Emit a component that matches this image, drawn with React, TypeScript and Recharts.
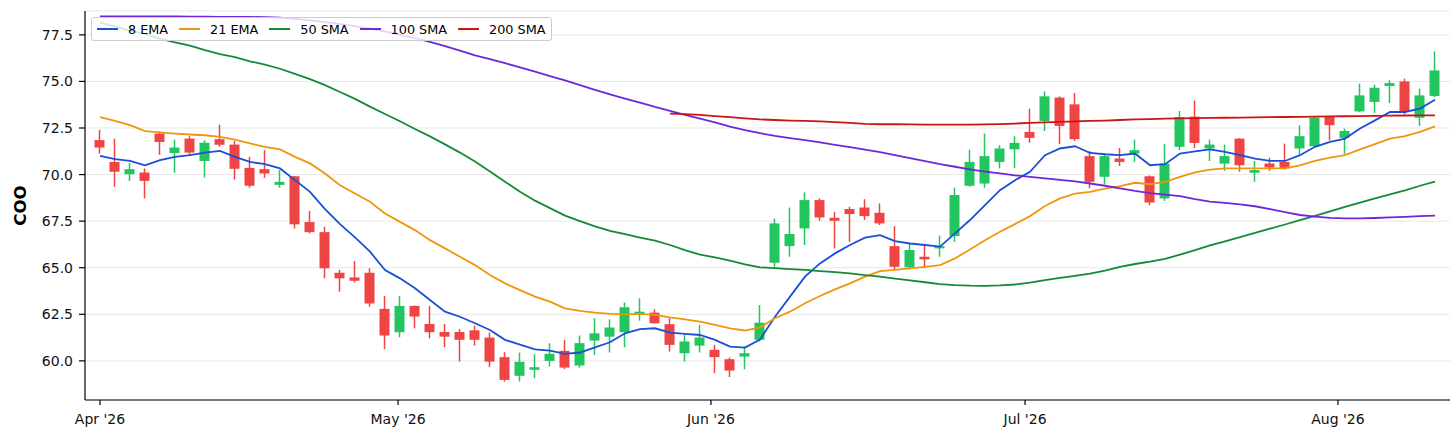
import {
  Bar,
  CartesianGrid,
  ComposedChart,
  Line,
  XAxis,
  YAxis,
} from "recharts";

// candles, one per trading day, 2026-04-01 .. 2026-08-10
const opens = [
  71.85, 70.68, 70.02, 70.11, 72.2, 71.16, 71.93, 70.73, 71.9, 71.61,
  70.36, 70.29, 69.45, 69.91, 67.45, 66.91, 64.73, 64.48, 64.73, 62.79,
  61.54, 62.95, 61.98, 61.55, 61.55, 61.64, 61.25, 60.2, 59.2, 59.52,
  60.0, 60.54, 59.75, 61.09, 61.3, 61.54, 62.52, 62.59, 61.97, 60.41,
  60.82, 60.59, 60.09, 60.23, 61.13, 65.27, 66.16, 67.11, 68.63, 67.68,
  68.15, 68.23, 67.95, 66.16, 65.02, 65.59, 66.04, 66.7, 69.4, 69.52,
  70.68, 71.36, 72.29, 72.88, 74.13, 73.77, 70.99, 69.88, 70.86, 71.13,
  69.91, 68.72, 71.49, 73.11, 71.4, 70.59, 71.93, 70.1, 70.59, 70.68,
  71.4, 71.52, 73.09, 71.97, 73.39, 73.9, 74.75, 75.0, 73.05, 74.22,
];
const highs = [
  72.4, 71.93, 70.63, 70.33, 72.3, 71.88, 72.06, 71.84, 72.68, 71.8,
  70.95, 71.31, 70.24, 69.93, 68.05, 67.2, 64.88, 65.36, 64.97, 63.48,
  63.48, 62.97, 62.95, 61.98, 61.7, 61.89, 61.52, 60.47, 60.45, 60.36,
  60.95, 61.13, 61.36, 62.29, 62.23, 63.13, 63.36, 62.77, 62.29, 61.39,
  61.93, 60.86, 60.18, 60.77, 63.0, 67.64, 68.23, 69.04, 68.72, 68.0,
  68.27, 68.68, 68.45, 67.23, 66.27, 66.27, 66.72, 69.3, 71.34, 72.2,
  71.57, 72.06, 73.54, 74.47, 74.2, 74.38, 71.27, 71.05, 71.43, 71.88,
  69.95, 71.63, 73.41, 73.98, 71.88, 71.61, 71.95, 70.73, 70.91, 71.66,
  72.65, 73.1, 73.12, 72.47, 74.88, 74.82, 75.06, 75.15, 74.61, 76.61,
];
const lows = [
  71.13, 69.34, 69.65, 68.72, 71.07, 70.1, 71.04, 69.84, 71.49, 69.73,
  69.29, 69.82, 69.29, 67.11, 66.84, 64.43, 63.71, 64.2, 62.91, 60.63,
  61.27, 61.75, 61.21, 60.73, 59.96, 60.82, 59.66, 58.89, 58.89, 59.07,
  59.7, 59.55, 59.64, 60.32, 60.45, 60.73, 62.16, 62.0, 60.5, 59.96,
  60.45, 59.34, 59.13, 59.55, 61.05, 65.05, 65.59, 66.22, 67.52, 66.04,
  66.39, 67.56, 67.29, 64.91, 64.98, 64.97, 65.59, 66.39, 69.35, 69.29,
  70.33, 70.36, 71.71, 72.34, 71.63, 71.8, 69.26, 69.48, 70.45, 70.68,
  68.36, 68.59, 71.31, 71.42, 70.73, 70.2, 70.15, 69.61, 70.2, 70.27,
  71.09, 71.5, 71.84, 71.09, 73.35, 73.3, 73.84, 73.24, 72.61, 74.15,
];
const closes = [
  71.45, 70.15, 70.29, 69.66, 71.75, 71.45, 71.18, 71.71, 71.6, 70.31,
  69.4, 70.06, 69.61, 67.33, 66.91, 64.97, 64.43, 64.3, 63.08, 61.36,
  62.95, 62.38, 61.54, 61.3, 61.13, 61.13, 59.96, 58.98, 59.95, 59.66,
  60.38, 59.64, 60.95, 61.48, 61.79, 62.88, 62.64, 62.02, 60.86, 61.04,
  61.25, 60.2, 59.48, 60.41, 62.05, 67.38, 66.81, 68.63, 67.7, 67.52,
  67.88, 67.77, 67.38, 65.05, 65.95, 65.45, 66.16, 68.9, 70.68, 70.99,
  71.4, 71.7, 71.97, 74.2, 72.61, 71.9, 69.61, 70.99, 70.68, 71.31,
  68.5, 70.59, 73.09, 71.7, 71.61, 70.99, 70.5, 70.24, 70.38, 70.33,
  72.06, 73.05, 72.65, 72.34, 74.25, 74.66, 74.91, 73.39, 74.25, 75.59,
];

const ema8 = [
  71.0, 70.83, 70.73, 70.5, 70.77, 70.95, 71.04, 71.18, 71.27, 70.95,
  70.68, 70.56, 70.33, 69.7, 69.07, 68.15, 67.34, 66.63, 65.86, 64.88,
  64.43, 63.9, 63.27, 62.64, 62.37, 62.02, 61.66, 61.13, 60.87, 60.62,
  60.55, 60.38, 60.45, 60.73, 61.0, 61.48, 61.7, 61.75, 61.52, 61.45,
  61.39, 61.13, 60.77, 60.71, 61.15, 62.37, 63.45, 64.52, 65.23, 65.77,
  66.22, 66.61, 66.75, 66.43, 66.3, 66.22, 66.13, 66.84, 67.56, 68.36,
  69.16, 69.7, 70.15, 71.04, 71.4, 71.52, 71.16, 71.09, 71.04, 71.13,
  70.5, 70.56, 71.13, 71.25, 71.35, 71.22, 71.04, 70.86, 70.73, 70.73,
  71.04, 71.49, 71.75, 71.93, 72.47, 72.91, 73.36, 73.36, 73.54, 74.02,
];
const ema21 = [
  73.09, 72.88, 72.65, 72.33, 72.26, 72.2, 72.15, 72.11, 72.02, 71.88,
  71.67, 71.49, 71.35, 70.95, 70.6, 70.06, 69.43, 68.98, 68.54, 67.91,
  67.46, 67.02, 66.48, 66.04, 65.59, 65.14, 64.61, 64.16, 63.8, 63.45,
  63.18, 62.82, 62.68, 62.59, 62.52, 62.5, 62.52, 62.47, 62.34, 62.23,
  62.11, 61.93, 61.75, 61.63, 61.8, 62.29, 62.64, 63.09, 63.48, 63.84,
  64.16, 64.52, 64.82, 64.88, 64.97, 65.05, 65.14, 65.5, 65.98, 66.48,
  66.93, 67.34, 67.77, 68.31, 68.72, 68.98, 69.07, 69.25, 69.38, 69.56,
  69.48, 69.61, 69.88, 70.12, 70.27, 70.33, 70.33, 70.33, 70.33, 70.33,
  70.5, 70.73, 70.91, 71.04, 71.35, 71.63, 71.93, 72.06, 72.29, 72.59,
];
const sma50 = [
  78.15, 77.95, 77.72, 77.55, 77.3, 77.1, 76.92, 76.68, 76.47, 76.3,
  76.08, 75.9, 75.68, 75.4, 75.12, 74.8, 74.43, 74.06, 73.65, 73.25,
  72.86, 72.45, 72.05, 71.62, 71.18, 70.7, 70.17, 69.62, 69.08, 68.6,
  68.2, 67.8, 67.5, 67.22, 66.98, 66.8, 66.62, 66.45, 66.22, 65.95,
  65.7, 65.55, 65.38, 65.18, 65.02, 64.98, 64.93, 64.88, 64.82, 64.76,
  64.7, 64.6, 64.52, 64.42, 64.32, 64.22, 64.12, 64.07, 64.04, 64.03,
  64.05, 64.1, 64.2, 64.33, 64.45, 64.56, 64.68, 64.85, 65.05, 65.2,
  65.33, 65.48, 65.7, 65.95, 66.2, 66.42, 66.64, 66.87, 67.1, 67.32,
  67.55, 67.78, 68.02, 68.27, 68.5, 68.72, 68.94, 69.15, 69.4, 69.62,
];
const sma100 = [
  78.49, 78.49, 78.49, 78.49, 78.49, 78.49, 78.48, 78.48, 78.47, 78.47,
  78.46, 78.45, 78.42, 78.36, 78.28, 78.18, 78.08, 77.97, 77.84, 77.68,
  77.5, 77.32, 77.12, 76.9, 76.65, 76.4, 76.2, 75.98, 75.75, 75.52,
  75.28, 75.06, 74.8, 74.55, 74.3, 74.08, 73.86, 73.63, 73.42, 73.2,
  73.0, 72.8, 72.58, 72.38, 72.22, 72.08, 71.96, 71.85, 71.73, 71.6,
  71.47, 71.34, 71.2, 71.05, 70.88, 70.72, 70.56, 70.42, 70.28, 70.16,
  70.06, 69.96, 69.88, 69.8, 69.72, 69.63, 69.52, 69.4, 69.26, 69.12,
  69.0, 68.92, 68.84, 68.68, 68.55, 68.48, 68.4, 68.3, 68.15, 67.98,
  67.83, 67.74, 67.68, 67.65, 67.65, 67.67, 67.7, 67.73, 67.77, 67.8,
];
// 200 SMA only has enough history from the 39th candle on
const sma200 = [
  null, null, null, null, null, null, null, null, null, null,
  null, null, null, null, null, null, null, null, null, null,
  null, null, null, null, null, null, null, null, null, null,
  null, null, null, null, null, null, null, null, 73.27, 73.24,
  73.2, 73.14, 73.08, 73.02, 72.96, 72.93, 72.9, 72.88, 72.86, 72.82,
  72.77, 72.72, 72.7, 72.7, 72.69, 72.68, 72.68, 72.68, 72.68, 72.69,
  72.71, 72.74, 72.77, 72.8, 72.83, 72.86, 72.88, 72.9, 72.93, 72.96,
  72.98, 73.0, 73.02, 73.03, 73.04, 73.05, 73.06, 73.07, 73.08, 73.09,
  73.1, 73.11, 73.12, 73.13, 73.14, 73.15, 73.16, 73.17, 73.18, 73.18,
];

const monthTicks = [0, 19.87, 40.73, 61.67, 82.53];
const monthLabels = ["Apr '26", "May '26", "Jun '26", "Jul '26", "Aug '26"];
const priceTicks = [60, 62.5, 65, 67.5, 70, 72.5, 75, 77.5];

const UP = "#22c55e";
const DOWN = "#ef4444";
const FONT = "DejaVu Sans, sans-serif";

const series = [
  { key: "ema8", name: "8 EMA", color: "#1a4fd6" },
  { key: "ema21", name: "21 EMA", color: "#f0960c" },
  { key: "sma50", name: "50 SMA", color: "#138a36" },
  { key: "sma100", name: "100 SMA", color: "#6d28d9" },
  { key: "sma200", name: "200 SMA", color: "#cc1414" },
];

const data = opens.map((open, i) => ({
  i,
  open,
  high: highs[i],
  low: lows[i],
  close: closes[i],
  ema8: ema8[i],
  ema21: ema21[i],
  sma50: sma50[i],
  sma100: sma100[i],
  sma200: sma200[i],
}));

function Candle(props: any) {
  const { x, y, width, height, payload } = props;
  if (x == null || y == null) return null;
  const top = Math.min(y, y + height);
  const h = Math.abs(height);
  const { open, close, high, low } = payload;
  const color = close >= open ? UP : DOWN;
  const perUnit = h / (high - low || 1);
  const yOpen = top + (high - open) * perUnit;
  const yClose = top + (high - close) * perUnit;
  const cx = x + width / 2;
  return (
    <g>
      <line x1={cx} x2={cx} y1={top} y2={top + h} stroke={color} strokeWidth={1.5} />
      <rect
        x={x}
        y={Math.min(yOpen, yClose)}
        width={width}
        height={Math.max(Math.abs(yOpen - yClose), 1)}
        fill={color}
      />
    </g>
  );
}

function App() {
  return (
    <div style={{ position: "relative", width: 1456, height: 440, fontFamily: FONT }}>
      <style>{`body { margin: 0; }`}</style>
      <ComposedChart
        width={1456}
        height={440}
        data={data}
        margin={{ top: 11, right: 6, bottom: 10, left: 0 }}
      >
        <CartesianGrid vertical={false} stroke="#e8e8e8" strokeWidth={1} />
        <XAxis
          dataKey="i"
          type="number"
          domain={[-1, 90]}
          ticks={monthTicks}
          tickFormatter={(v) => monthLabels[monthTicks.indexOf(v)] ?? ""}
          height={30}
          stroke="#000"
          strokeWidth={1.2}
          tickSize={5}
          tickMargin={9}
          tick={{ fill: "#111", fontSize: 14, fontFamily: FONT }}
          allowDataOverflow
        />
        <YAxis
          type="number"
          domain={[57.9, 78.78]}
          ticks={priceTicks}
          tickFormatter={(v) => v.toFixed(1)}
          width={85}
          stroke="#000"
          strokeWidth={1.2}
          tickSize={6}
          tickMargin={6}
          tick={{ fill: "#111", fontSize: 14, fontFamily: FONT }}
          allowDataOverflow
          label={{
            content: () => (
              <text
                x={20}
                y={205.5}
                transform="rotate(-90 20 205.5)"
                textAnchor="middle"
                dominantBaseline="central"
                fontFamily={FONT}
                fontSize={16.7}
                fontWeight="bold"
                fill="#000"
              >
                COO
              </text>
            ),
          }}
        />
        <Bar
          dataKey={(d: any) => [d.low, d.high]}
          barSize={10}
          shape={<Candle />}
          isAnimationActive={false}
        />
        {series.map((s) => (
          <Line
            key={s.key}
            dataKey={s.key}
            type="linear"
            stroke={s.color}
            strokeWidth={1.8}
            dot={false}
            activeDot={false}
            isAnimationActive={false}
          />
        ))}
      </ComposedChart>
      <div
        style={{
          position: "absolute",
          left: 91,
          top: 17,
          height: 24,
          boxSizing: "border-box",
          display: "flex",
          alignItems: "center",
          padding: "0 6px 0 5px",
          background: "rgba(255,255,255,0.8)",
          border: "1px solid #cccccc",
          borderRadius: 3,
          fontSize: 12.8,
          color: "#000",
          whiteSpace: "nowrap",
        }}
      >
        {series.map((s, i) => (
          <div key={s.key} style={{ display: "flex", alignItems: "center", marginLeft: i ? 11 : 0 }}>
            <span style={{ width: 21, height: 2, background: s.color, marginRight: 10 }} />
            <span>{s.name}</span>
          </div>
        ))}
      </div>
    </div>
  );
}

export default App;
